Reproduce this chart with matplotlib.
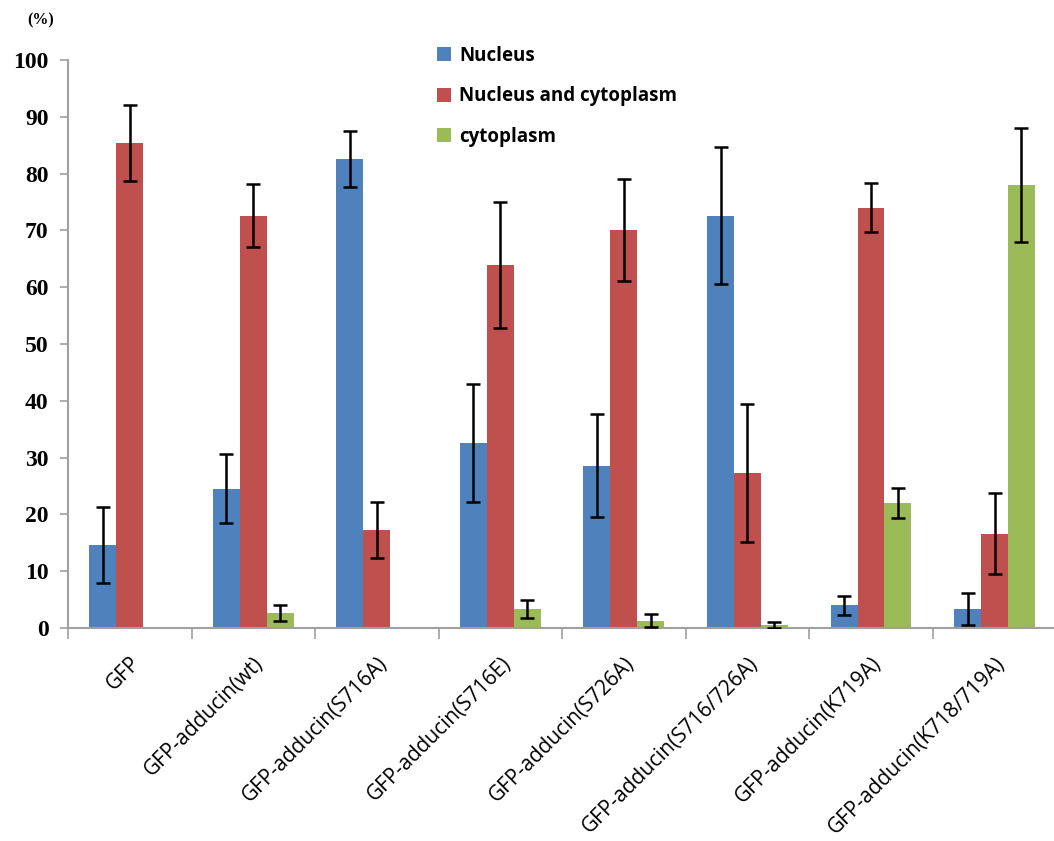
import numpy as np
import matplotlib.pyplot as plt
from matplotlib.patches import Patch

categories = ['GFP', 'GFP-adducin(wt)', 'GFP-adducin(S716A)', 'GFP-adducin(S716E)',
              'GFP-adducin(S726A)', 'GFP-adducin(S716/726A)', 'GFP-adducin(K719A)',
              'GFP-adducin(K718/719A)']

nucleus = [14.6, 24.5, 82.6, 32.6, 28.6, 72.6, 4.0, 3.3]
nucleus_err = [6.7, 6.1, 4.9, 10.4, 9.0, 12.1, 1.7, 2.8]
both = [85.4, 72.6, 17.2, 63.9, 70.1, 27.3, 74.0, 16.6]
both_err = [6.7, 5.5, 4.9, 11.1, 9.0, 12.1, 4.3, 7.1]
cyto = [0, 2.7, 0, 3.3, 1.3, 0.5, 22.0, 78.0]
cyto_err = [0, 1.4, 0, 1.6, 1.2, 0.5, 2.6, 10.1]

series = [('Nucleus', nucleus, nucleus_err, '#4F81BD'),
          ('Nucleus and cytoplasm', both, both_err, '#C0504D'),
          ('cytoplasm', cyto, cyto_err, '#9BBB59')]

fig = plt.figure(figsize=(10.54, 8.41), dpi=100)
ax = fig.add_axes([0.0645, 0.2533, 0.94, 0.6754])

x = np.arange(len(categories))
w = 0.218
for i, (name, vals, errs, col) in enumerate(series):
    pos = x + (i - 1) * w
    ax.bar(pos, vals, w, color=col, zorder=2)
    # no error bar drawn where the value is zero
    m = np.array(vals) > 0
    ax.errorbar(pos[m], np.array(vals)[m], yerr=np.array(errs)[m], fmt='none',
                ecolor='black', elinewidth=1.8, capsize=5, capthick=1.8, zorder=3)

ax.set_xlim(-0.5, len(categories) - 0.5 + 0.02)
ax.set_ylim(0, 100)
ax.set_yticks(range(0, 101, 10))
ax.set_yticklabels([str(v) for v in range(0, 101, 10)],
                   fontfamily='Liberation Serif', fontweight='bold', fontsize=17)

ax.set_xticks(x)
ax.set_xticklabels(categories, rotation=45, ha='right', rotation_mode='anchor',
                   fontfamily='Open Sans', fontsize=15)
ax.tick_params(axis='x', length=0, pad=18)
ax.set_xticks(np.arange(len(categories)) - 0.5, minor=True)
ax.tick_params(axis='x', which='minor', length=8, color='#a0a0a0', width=1.2)
ax.tick_params(axis='y', length=6, color='#a0a0a0', width=1.2, pad=8)

for s in ['top', 'right']:
    ax.spines[s].set_visible(False)
for s in ['left', 'bottom']:
    ax.spines[s].set_color('#a0a0a0')
    ax.spines[s].set_linewidth(1.5)

handles = [Patch(facecolor=c, label=n) for n, _, _, c in series]
leg = ax.legend(handles=handles, loc='upper left', bbox_to_anchor=(0.355, 1.055),
                frameon=False, labelspacing=1.1, handlelength=0.75, handleheight=0.75,
                handletextpad=0.45, prop={'family': 'Open Sans', 'weight': 'bold', 'size': 13.5})

fig.text(0.026, 0.985, '(%)', fontfamily='Liberation Serif', fontweight='bold',
         fontsize=11.5, va='top')

fig.savefig('out.png', dpi=100)
